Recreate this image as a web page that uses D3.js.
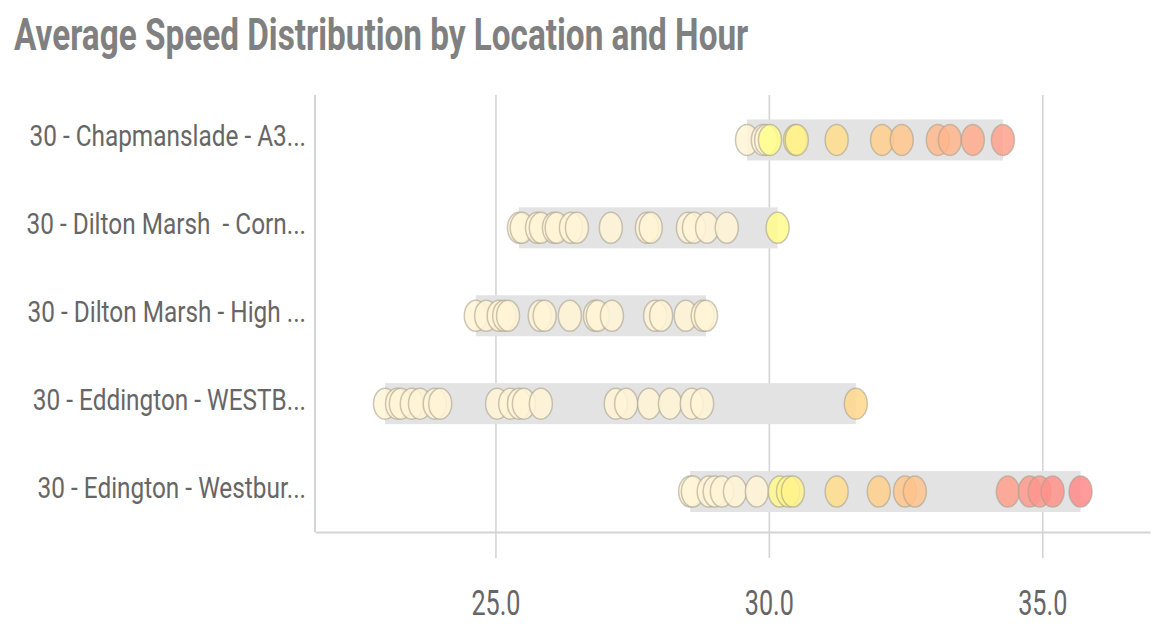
<!DOCTYPE html>
<html>
<head>
<meta charset="utf-8">
<script src="https://cdn.jsdelivr.net/npm/d3@7"></script>
<style>
  html, body { margin: 0; padding: 0; background: #fff; }
  svg { display: block; }
  text { white-space: pre; }
</style>
</head>
<body>
<div id="chart"></div>
<script>
// Categorías (filas) y velocidades medias por hora
const locations = [
  "30 - Chapmanslade - A3...",
  "30 - Dilton Marsh  - Corn...",
  "30 - Dilton Marsh - High ...",
  "30 - Eddington - WESTB...",
  "30 - Edington - Westbur..."
];
const speedsChapmanslade = [29.6, 29.89, 29.95, 30.02, 30.48, 30.51, 31.24, 32.07, 32.43, 33.09, 33.31, 33.73, 34.28];
const speedsDiltonCorn   = [25.43, 25.48, 25.76, 25.83, 26.07, 26.12, 26.38, 26.49, 27.11, 27.77, 27.84, 28.52, 28.63, 28.87, 29.23, 30.16];
const speedsDiltonHigh   = [24.64, 24.83, 25.06, 25.16, 25.23, 25.81, 25.90, 26.36, 26.82, 26.87, 27.13, 27.92, 28.03, 28.48, 28.79, 28.85];
const speedsEddington    = [22.98, 23.20, 23.27, 23.47, 23.62, 23.89, 23.99, 25.03, 25.27, 25.43, 25.52, 25.83, 27.20, 27.39, 27.81, 28.19, 28.59, 28.78, 31.59];
const speedsEdington     = [28.56, 28.61, 28.90, 29.01, 29.14, 29.38, 29.78, 30.20, 30.35, 30.44, 31.24, 32.01, 32.49, 32.67, 34.37, 34.77, 34.95, 35.19, 35.70];
const xTicks = [25, 30, 35];
const title = "Average Speed Distribution by Location and Hour";

const allSpeeds = [speedsChapmanslade, speedsDiltonCorn, speedsDiltonHigh, speedsEddington, speedsEdington];
const rows = locations.map((loc, i) => ({loc, values: allSpeeds[i]}));

const width = 1153, height = 627;
const plot = {left: 315, right: 1150, top: 95, bottom: 532};

const svg = d3.select("#chart").append("svg")
  .attr("width", width).attr("height", height)
  .style("font-family", "Roboto, 'Open Sans', sans-serif");

const x = d3.scaleLinear().domain([21.7, 36.97]).range([plot.left, plot.right]);
const y = d3.scaleBand().domain(locations).range([96, 535.5]).padding(0);

// Color: bajo el límite = crema; por encima, amarillo → naranja → rojo
const overColor = d3.scaleLinear()
  .domain([30, 31, 32, 33, 34, 35, 35.7])
  .range(["#ffff8c", "#ffe38c", "#ffd08c", "#ffbc8c", "#ffa68c", "#ff958c", "#ff8a8a"])
  .clamp(true);
const color = v => v < 30 ? "#fff5d6" : overColor(v);

// Compresión horizontal del texto (fuente condensada del original)
function squeeze(sel, k) {
  sel.each(function() {
    const w = this.getComputedTextLength();
    d3.select(this).attr("textLength", w * k).attr("lengthAdjust", "spacingAndGlyphs");
  });
}

// Título
svg.append("text")
  .attr("x", 14).attr("y", 50)
  .attr("font-size", 45).attr("font-weight", "bold").attr("fill", "#808080")
  .text(title)
  .call(squeeze, 0.74);

// Eje X + líneas de cuadrícula
const gx = svg.append("g").attr("transform", `translate(0,${plot.bottom})`)
  .call(d3.axisBottom(x).tickValues(xTicks).tickFormat(d3.format(".1f")).tickSizeOuter(0).tickSizeInner(26).tickPadding(0));
gx.select(".domain").attr("stroke", "#d4d4d4").attr("stroke-width", 2);
gx.selectAll(".tick line")
  .attr("stroke", "#d4d4d4").attr("stroke-width", 1.6)
  .attr("y1", -(plot.bottom - plot.top));
gx.selectAll(".tick text")
  .attr("y", 83).attr("dy", 0)
  .attr("font-size", 35).attr("fill", "#666")
  .attr("font-family", "Roboto, sans-serif")
  .call(squeeze, 0.72);

// Línea del eje Y
svg.append("line")
  .attr("x1", plot.left).attr("x2", plot.left)
  .attr("y1", plot.top).attr("y2", plot.bottom)
  .attr("stroke", "#d4d4d4").attr("stroke-width", 2);

// Etiquetas del eje Y
const gy = svg.append("g").attr("transform", `translate(${plot.left},0)`)
  .call(d3.axisLeft(y).tickSize(0).tickPadding(9));
gy.select(".domain").remove();
gy.selectAll(".tick text")
  .attr("dy", 0).attr("y", 6.5)
  .attr("font-size", 29).attr("fill", "#666")
  .attr("font-family", "Roboto, sans-serif")
  .call(squeeze, 0.84);

// Barras de rango (mín–máx)
svg.append("g").selectAll("rect").data(rows).join("rect")
  .attr("x", d => x(d3.min(d.values)))
  .attr("width", d => x(d3.max(d.values)) - x(d3.min(d.values)))
  .attr("y", d => y(d.loc) + y.bandwidth() / 2 - 20.5)
  .attr("height", 41)
  .attr("fill", "#e3e3e3");

// Puntos
svg.append("g").selectAll("g").data(rows).join("g")
  .attr("transform", d => `translate(0,${y(d.loc) + y.bandwidth() / 2})`)
  .selectAll("ellipse").data(d => d.values).join("ellipse")
  .attr("cx", v => x(v))
  .attr("cy", 0)
  .attr("rx", 11.5).attr("ry", 15.5)
  .attr("fill", v => color(v))
  .attr("fill-opacity", 0.85)
  .attr("stroke", "#a8a290").attr("stroke-opacity", 0.6)
  .attr("stroke-width", 1.5);
</script>
</body>
</html>
